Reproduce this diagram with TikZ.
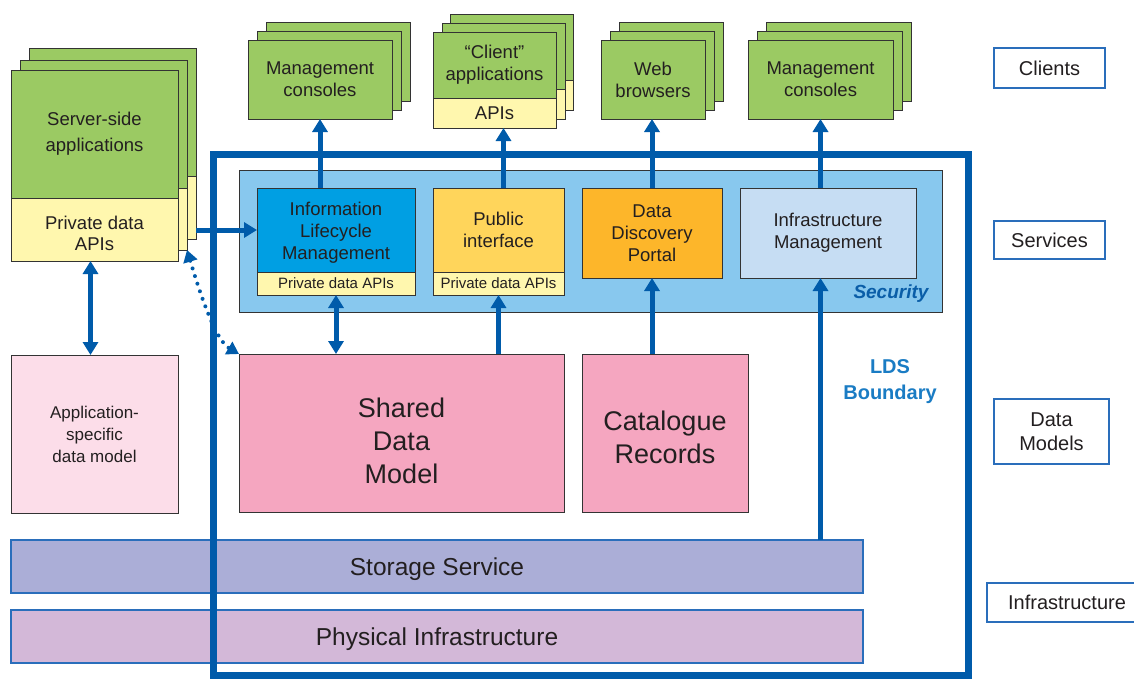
\documentclass[tikz,border=0pt]{standalone}
\usepackage{fontspec}
\setmainfont{Liberation Sans}
\usetikzlibrary{arrows.meta}
\definecolor{cgreen}{HTML}{9BCA63}
\definecolor{cyellow}{HTML}{FFF7AE}
\definecolor{arrowblue}{HTML}{005BAA}
\definecolor{secblue}{HTML}{88C8EE}
\definecolor{ilmblue}{HTML}{009FE3}
\definecolor{pubyellow}{HTML}{FFD55B}
\definecolor{ddporange}{HTML}{FDB62A}
\definecolor{imblue}{HTML}{C6DDF3}
\definecolor{cpink}{HTML}{F5A6C0}
\definecolor{lpink}{HTML}{FCDDE9}
\definecolor{storagec}{HTML}{ABAED7}
\definecolor{physc}{HTML}{D3B8D8}
\definecolor{bandline}{HTML}{2A6EBB}
\definecolor{boxline}{HTML}{333333}
\definecolor{txt}{HTML}{231F20}
\definecolor{ldstext}{HTML}{1A7CC4}
\definecolor{sectext}{HTML}{0A5EA8}
\newcommand{\fs}[2]{\fontsize{#1}{#2}\selectfont}
\newcommand{\mybox}[7]{\node[box,#2,minimum width=#5pt,minimum height=#6pt] (#1) at (#3,#4) {#7};}
\begin{document}
\begin{tikzpicture}[x=1pt,y=-1pt,
  box/.style={draw=boxline, line width=1pt, inner sep=1pt, outer sep=0pt, align=center, text=txt, anchor=north west, font=\fs{18.5}{22}},
  tx/.style={align=center, text=txt, inner sep=0pt, font=\fs{18.5}{22}},
  gbox/.style={fill=cgreen},
  ybox/.style={fill=cyellow},
  smallf/.style={font=\fs{15}{18}},
  band/.style={draw=bandline, line width=1.2pt},
  lbl/.style={draw=bandline, line width=1.2pt, font=\fs{20}{24}},
  arr/.style={draw=arrowblue, line width=5pt, -{Triangle[width=15pt,length=13pt]}},
  dblarr/.style={draw=arrowblue, line width=5pt, {Triangle[width=15pt,length=13pt]}-{Triangle[width=15pt,length=13pt]}},
  dotarr/.style={draw=arrowblue, line width=4pt, line cap=round, dash pattern=on 0pt off 8pt, {Triangle[width=14pt,length=12pt]}-{Triangle[width=14pt,length=12pt]}},
  ldsbox/.style={draw=arrowblue, line width=7pt, outer sep=0pt, anchor=north west}
]
\useasboundingbox (0,0) rectangle (1134,678);
\fill[white] (0,0) rectangle (1134,678);

% Server-side applications stack
\mybox{s3g}{gbox}{29}{48}{167}{128}{}
\mybox{s3y}{ybox}{29}{176}{167}{63}{}
\mybox{s2g}{gbox}{20}{60}{167}{128}{}
\mybox{s2y}{ybox}{20}{188}{167}{62}{}
\mybox{s1g}{gbox}{11}{70}{167}{128}{}
\mybox{s1y}{ybox}{11}{198}{167}{63}{}
\node[tx, font=\fs{18.5}{26}] (s1gt) at (s1g.center) {Server-side\\applications};
\node[tx, font=\fs{18.5}{21}] (s1yt) at ([yshift=-4pt]s1y.center) {Private data\\APIs};

% Management consoles (left)
\mybox{m1c}{gbox}{266}{22}{144}{79}{}
\mybox{m1b}{gbox}{257}{31}{144}{79}{}
\mybox{m1a}{gbox}{248}{40}{144}{79}{Management\\consoles}

% Client applications
\mybox{c3g}{gbox}{450}{14}{123}{66}{}
\mybox{c3y}{ybox}{450}{80}{123}{30}{}
\mybox{c2g}{gbox}{442}{23}{123}{66}{}
\mybox{c2y}{ybox}{442}{89}{123}{30}{}
\mybox{c1g}{gbox}{433}{32}{123}{66}{“Client”\\applications}
\mybox{c1y}{ybox}{433}{98}{123}{30}{APIs}

% Web browsers
\mybox{w3}{gbox}{619}{22}{104}{79}{}
\mybox{w2}{gbox}{610}{31}{104}{79}{}
\mybox{w1}{gbox}{601}{40}{104}{79}{Web\\browsers}

% Management consoles (right)
\mybox{m2c}{gbox}{766}{22}{145}{79}{}
\mybox{m2b}{gbox}{757}{31}{145}{79}{}
\mybox{m2a}{gbox}{748}{40}{145}{79}{Management\\consoles}

% Application-specific data model
\mybox{asm}{fill=lpink, font=\fs{17}{22}}{11}{355}{167}{158}{Application-\\specific\\data model}

% Storage and physical bands
\mybox{st}{band, fill=storagec}{11}{540}{852}{53}{}
\node[tx, font=\fs{24.5}{28}] (stt) at ([yshift=-3pt]st.center) {Storage Service};
\mybox{ph}{band, fill=physc}{11}{610}{852}{53}{}
\node[tx, font=\fs{24.5}{28}] (pht) at ([yshift=-3pt]ph.center) {Physical Infrastructure};

% LDS boundary
\node[ldsbox, minimum width=755pt, minimum height=521pt] (lds) at (213,154) {};

% Security / services
\mybox{sec}{fill=secblue}{239}{170}{703}{142}{}
\mybox{ilm}{fill=ilmblue}{257}{188}{158}{84}{}
\node[tx] (ilmt) at ([yshift=-3pt]ilm.center) {Information\\Lifecycle\\Management};
\mybox{ilmapi}{ybox, smallf}{257}{272}{158}{23}{Private data APIs}
\mybox{pub}{fill=pubyellow}{433}{188}{131}{84}{Public\\interface}
\mybox{pubapi}{ybox, smallf}{433}{272}{131}{23}{Private data APIs}
\mybox{ddp}{fill=ddporange}{582}{188}{140}{90}{Data\\Discovery\\Portal}
\mybox{im}{fill=imblue}{740}{188}{176}{90}{Infrastructure\\Management}
\node[anchor=east, text=sectext, font=\fs{19}{22}\bfseries\itshape] (seclbl) at (932,294) {Security};

% Data models
\mybox{sdm}{fill=cpink}{239}{354}{325}{158}{}
\node[tx, font=\fs{27}{33}] (sdmt) at ([yshift=-8pt]sdm.center) {Shared\\Data\\Model};
\mybox{cat}{fill=cpink}{582}{354}{166}{158}{}
\node[tx, font=\fs{27}{33}] (catt) at ([yshift=-4pt]cat.center) {Catalogue\\Records};

\node[align=center, text=ldstext, font=\fs{20}{26}\bfseries] (ldslbl) at (890,382) {LDS\\Boundary};

% Right-hand layer labels
\mybox{lc}{lbl}{994}{48}{111}{40}{Clients}
\mybox{ls}{lbl}{994}{221}{111}{38}{Services}
\mybox{ld}{lbl}{994}{399}{115}{65}{Data\\Models}
\mybox{li}{lbl}{987}{583}{160}{39}{Infrastructure}

% Connectors
\draw[arr] (s3y.east |- ilm.west) -- (ilm.west);
\draw[dblarr] ([xshift=-4pt]s1y.south) -- ([xshift=-4pt]s1y.south |- asm.north);
\draw[dotarr] (s2y.south east) .. controls +(12,40) and +(-24,-14) .. (sdm.north west);
\draw[arr] (ilm.north -| m1a.south) -- (m1a.south);
\draw[arr] ([xshift=9pt]c1y.south |- pub.north) -- ([xshift=9pt]c1y.south);
\draw[arr] (ddp.north) -- (ddp.north |- w1.south);
\draw[arr] (im.north -| m2a.south) -- (m2a.south);
\draw[arr] (st.north -| m2a.south) -- (im.south -| m2a.south);
\draw[dblarr] (ilmapi.south) -- (ilmapi.south |- sdm.north);
\draw[arr] (sdm.north -| pubapi.south) -- (pubapi.south);
\draw[arr] (cat.north -| ddp.south) -- (ddp.south);
\end{tikzpicture}
\end{document}
